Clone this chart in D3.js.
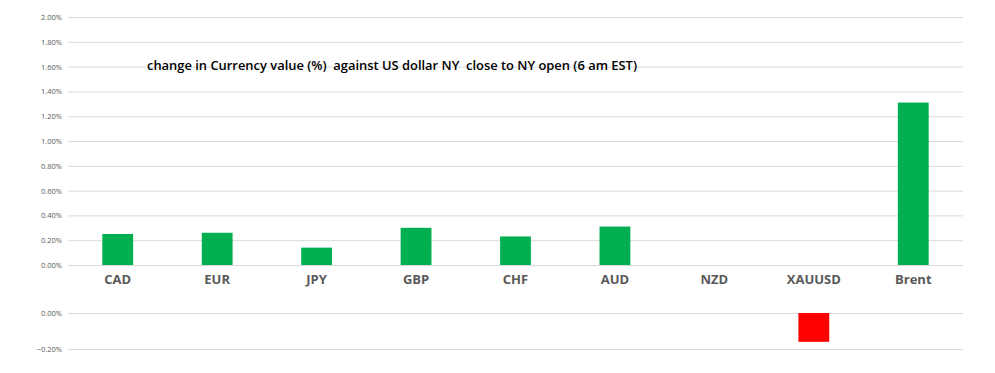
<!DOCTYPE html>
<html>
<head>
<meta charset="utf-8">
<script src="https://cdn.jsdelivr.net/npm/d3@7"></script>
<style>
    body { margin: 0; background: #fff; }
    .grid line { stroke: #d9d9d9; stroke-width: 1; }
    .tick text { fill: #595959; font-family: "Open Sans", sans-serif; font-size: 7.5px; }
    .catLabel { fill: #595959; font-family: "Open Sans", sans-serif; font-size: 13px; font-weight: bold; }
    .title { fill: #000; font-family: "Open Sans", sans-serif; font-size: 13px; font-weight: 600; white-space: pre; }
</style>
</head>
<body>
<script>
//chart data
var categories = ["CAD", "EUR", "JPY", "GBP", "CHF", "AUD", "NZD", "XAUUSD", "Brent"];
var changes = [0.0025, 0.0026, 0.0014, 0.0030, 0.0023, 0.0031, 0, -0.0016, 0.0131];
var topTicks = [0, 0.002, 0.004, 0.006, 0.008, 0.010, 0.012, 0.014, 0.016, 0.018, 0.020];
var bottomTicks = [0, -0.002];
var title = "change in Currency value (%)  against US dollar NY  close to NY open (6 am EST)";

//frame dimensions
var width = 995,
    height = 373;

var svg = d3.select("body")
    .append("svg")
    .attr("width", width)
    .attr("height", height);

//shared category scale
var x = d3.scaleBand()
    .domain(categories)
    .range([68, 963])
    .paddingInner(0.69)
    .paddingOuter(0.345);

//top panel: positive changes
var yTop = d3.scaleLinear()
    .domain([0, 0.02])
    .range([265, 17]);

//bottom panel: negative changes
var yBottom = d3.scaleLinear()
    .domain([-0.002, 0])
    .range([349, 313]);

var fmt = d3.format(".2%");

function drawPanel(scale, ticks){
    var axis = d3.axisLeft(scale)
        .tickValues(ticks)
        .tickFormat(fmt)
        .tickSize(-(963 - 68))
        .tickPadding(6);

    var g = svg.append("g")
        .attr("class", "grid")
        .attr("transform", "translate(68,0)")
        .call(axis);
    g.select(".domain").remove();
    return g;
}

drawPanel(yTop, topTicks);
drawPanel(yBottom, bottomTicks);

//positive bars
svg.selectAll(".posBar")
    .data(changes.map(function(v, i){ return {cat: categories[i], v: v}; })
        .filter(function(d){ return d.v > 0; }))
    .enter()
    .append("rect")
    .attr("class", "posBar")
    .attr("x", function(d){ return x(d.cat); })
    .attr("width", x.bandwidth())
    .attr("y", function(d){ return yTop(d.v); })
    .attr("height", function(d){ return yTop(0) - yTop(d.v); })
    .attr("fill", "#00b050");

//negative bars
svg.selectAll(".negBar")
    .data(changes.map(function(v, i){ return {cat: categories[i], v: v}; })
        .filter(function(d){ return d.v < 0; }))
    .enter()
    .append("rect")
    .attr("class", "negBar")
    .attr("x", function(d){ return x(d.cat); })
    .attr("width", x.bandwidth())
    .attr("y", yBottom(0))
    .attr("height", function(d){ return yBottom(d.v) - yBottom(0); })
    .attr("fill", "#ff0000");

//category labels
svg.selectAll(".catLabel")
    .data(categories)
    .enter()
    .append("text")
    .attr("class", "catLabel")
    .attr("x", function(d){ return x(d) + x.bandwidth() / 2; })
    .attr("y", 284)
    .attr("text-anchor", "middle")
    .text(function(d){ return d; });

//title
svg.append("text")
    .attr("class", "title")
    .attr("x", 147)
    .attr("y", 70)
    .attr("textLength", 490)
    .attr("lengthAdjust", "spacingAndGlyphs")
    .text(title);
</script>
</body>
</html>
